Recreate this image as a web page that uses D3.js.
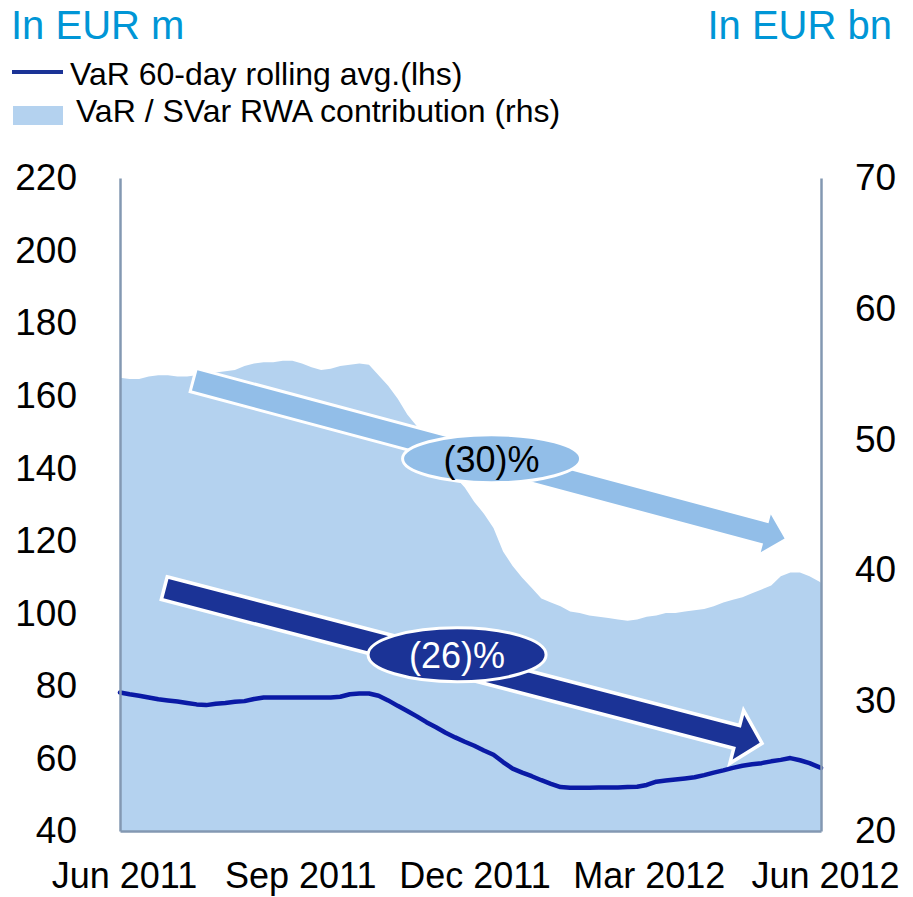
<!DOCTYPE html>
<html><head><meta charset="utf-8">
<script src="https://cdn.jsdelivr.net/npm/d3@7"></script>
<style>
body{margin:0;background:#fff}
text{font-family:"Liberation Sans",Arial,sans-serif}
</style>
</head><body>
<svg id="c" width="913" height="897"></svg>
<script>
// ---------- data ----------
const startDate = "2011-06-01";
const endDate = "2012-06-01";
const stepDays = 5; // one reading every 5 days
// VaR / SVaR RWA contribution, EUR bn (rhs)
const rwaValues = [
  54.7, 54.6, 54.6, 54.8, 54.9, 54.9, 54.8, 54.8, 54.9, 55.0,
  55.1, 55.2, 55.3, 55.6, 55.8, 55.9, 55.9, 56.0, 56.0, 55.8,
  55.5, 55.3, 55.4, 55.6, 55.7, 55.8, 55.7, 54.9, 54.1, 53.1,
  51.9, 51.0, 50.2, 49.2, 48.2, 47.1, 46.3, 45.2, 44.3, 43.2,
  41.4, 40.3, 39.4, 38.6, 37.8, 37.5, 37.2, 36.8, 36.7, 36.5,
  36.4, 36.3, 36.2, 36.1, 36.2, 36.4, 36.5, 36.7, 36.7, 36.8,
  36.9, 37.0, 37.2, 37.5, 37.7, 37.9, 38.2, 38.5, 38.8, 39.5,
  39.8, 39.8, 39.5, 39.1, 39.0
];
// VaR 60-day rolling average, EUR m (lhs)
const varValues = [
  78.2, 77.7, 77.3, 76.8, 76.3, 76.0, 75.7, 75.3, 74.9, 74.7,
  75.1, 75.3, 75.6, 75.8, 76.4, 76.8, 76.8, 76.8, 76.8, 76.8,
  76.8, 76.8, 76.8, 77.0, 77.7, 77.9, 77.9, 77.3, 76.0, 74.5,
  73.1, 71.6, 70.0, 68.6, 67.1, 65.8, 64.6, 63.5, 62.2, 61.0,
  59.0, 57.2, 56.1, 55.1, 54.0, 53.0, 52.1, 51.9, 51.9, 51.9,
  52.0, 52.0, 52.0, 52.1, 52.2, 52.7, 53.6, 53.9, 54.2, 54.5,
  54.8, 55.4, 56.1, 56.7, 57.4, 58.0, 58.4, 58.7, 59.2, 59.6,
  60.1, 59.5, 58.7, 57.6, 57.4
];
const xTickDates = ["2011-06-01","2011-09-01","2011-12-01","2012-03-01","2012-06-01"];
const xTickLabels = ["Jun 2011","Sep 2011","Dec 2011","Mar 2012","Jun 2012"];
const leftTicks = [40,60,80,100,120,140,160,180,200,220];
const rightTicks = [20,30,40,50,60,70];
const titles = {left:"In EUR m", right:"In EUR bn"};
const legendLabels = ["VaR 60-day rolling avg.(lhs)", " VaR / SVar RWA contribution (rhs)"];
// annotations (data space): arrow from -> to, and label bubble
const annLight = {from:["2011-07-10",54.5], to:["2012-05-13",42.4], label:"(30)%", at:["2011-12-12",48.5]};
const annDark  = {from:["2011-06-25",106.8], to:["2012-04-30",64.3], label:"(26)%", at:["2011-11-24",88.6]};

// ---------- setup ----------
const parse = d3.utcParse("%Y-%m-%d");
const start = parse(startDate), end = parse(endDate);
const dates = rwaValues.map((_, i) => {
  const d = d3.utcDay.offset(start, i*stepDays);
  return d > end ? end : d;
});
dates[dates.length-1] = end;

const C = {
  area:"#b4d2ef", lightArrow:"#92bee8", dark:"#1b3396", line:"#0a1aa5",
  axis:"#8398b2", title:"#0096d6", text:"#000"
};
const L = 120, R = 821, T = 178, B = 831;

const svg = d3.select("#c");
const x = d3.scaleUtc().domain([start, end]).range([L, R]);
const yL = d3.scaleLinear().domain([40,220]).range([B, T]);
const yR = d3.scaleLinear().domain([20,70]).range([B, T]);

// area
const area = d3.area().x((d,i)=>x(dates[i])).y0(B).y1(d=>yR(d));
svg.append("path").datum(rwaValues).attr("d", area).attr("fill", C.area);

// line
const line = d3.line().x((d,i)=>x(dates[i])).y(d=>yL(d));
svg.append("path").datum(varValues).attr("d", line)
  .attr("fill","none").attr("stroke",C.line).attr("stroke-width",4.5)
  .attr("stroke-linejoin","round").attr("stroke-linecap","round");

// arrows
function arrow(ann, scaleY, bodyHalf, headHalf, headLen, fill, outline){
  const x0 = x(parse(ann.from[0])), y0 = scaleY(ann.from[1]);
  const x1 = x(parse(ann.to[0])), y1 = scaleY(ann.to[1]);
  const len = Math.hypot(x1-x0, y1-y0);
  const ang = Math.atan2(y1-y0, x1-x0)*180/Math.PI;
  const pts = [[0,-bodyHalf],[len-headLen,-bodyHalf],[len-headLen,-headHalf],[len,0],
               [len-headLen,headHalf],[len-headLen,bodyHalf],[0,bodyHalf]];
  svg.append("path")
    .attr("d", "M" + pts.map(p=>p.join(",")).join("L") + "Z")
    .attr("transform", `translate(${x0},${y0}) rotate(${ang})`)
    .attr("fill", fill).attr("stroke","#fff").attr("stroke-width", outline)
    .attr("stroke-linejoin","miter").attr("paint-order","stroke");
}
function bubble(ann, scaleY, rx, ry, fill, color){
  const cx = x(parse(ann.at[0])), cy = scaleY(ann.at[1]);
  svg.append("ellipse").attr("cx",cx).attr("cy",cy).attr("rx",rx).attr("ry",ry)
    .attr("fill",fill).attr("stroke","#fff").attr("stroke-width",3);
  svg.append("text").attr("x",cx).attr("y",cy).attr("dy","0.36em")
    .attr("text-anchor","middle").attr("font-size",36).attr("fill",color).text(ann.label);
}
arrow(annLight, yR, 10.5, 19.5, 19.5, C.lightArrow, 6);
bubble(annLight, yR, 89, 24, C.lightArrow, "#000");
arrow(annDark, yL, 10, 23, 22, C.dark, 7);
bubble(annDark, yL, 89, 27, C.dark, "#fff");

// axes
const fs = 37;
const gL = svg.append("g").attr("transform",`translate(${L},0)`)
  .call(d3.axisLeft(yL).tickValues(leftTicks).tickSize(0).tickPadding(43));
const gR = svg.append("g").attr("transform",`translate(${R},0)`)
  .call(d3.axisRight(yR).tickValues(rightTicks).tickSize(0).tickPadding(34));
const gB = svg.append("g").attr("transform",`translate(0,${B})`)
  .call(d3.axisBottom(x).tickValues(xTickDates.map(parse)).tickSize(0).tickPadding(31)
    .tickFormat((d,i)=>xTickLabels[i]));
[gL,gR,gB].forEach(g=>{
  g.select(".domain").attr("stroke",C.axis).attr("stroke-width",2.5);
  g.selectAll("text").attr("font-family","'Liberation Sans',Arial,sans-serif")
    .attr("font-size",fs).attr("fill",C.text);
});
gB.selectAll("text").attr("font-size",36).attr("dx",4);

// titles
svg.append("text").attr("x",11).attr("y",39).attr("font-size",40).attr("fill",C.title).text(titles.left);
svg.append("text").attr("x",892).attr("y",39).attr("text-anchor","end").attr("font-size",40).attr("fill",C.title).text(titles.right);

// legend
svg.append("line").attr("x1",12).attr("x2",63).attr("y1",72).attr("y2",72)
  .attr("stroke",C.dark).attr("stroke-width",4);
svg.append("text").attr("x",70).attr("y",85).attr("font-size",32).attr("fill","#000").text(legendLabels[0]);
svg.append("rect").attr("x",13).attr("y",106).attr("width",50).attr("height",19).attr("fill",C.area);
svg.append("text").attr("x",67).attr("y",122).attr("font-size",32).attr("fill","#000")
  .attr("xml:space","preserve").style("white-space","pre").text(legendLabels[1]);
</script>
</body></html>
